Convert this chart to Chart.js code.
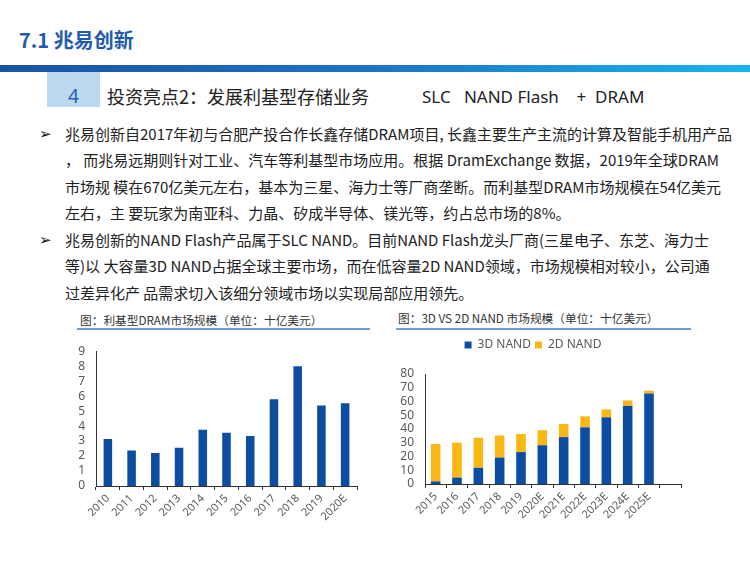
<!DOCTYPE html>
<html>
<head>
<meta charset="utf-8">
<script src="https://cdn.jsdelivr.net/npm/chart.js@4/dist/chart.umd.min.js"></script>
<style>
  html, body { margin: 0; padding: 0; background: #fff; }
  body { width: 750px; height: 562px; position: relative; overflow: hidden;
         font-family: "Noto Sans CJK SC", "Noto Sans", sans-serif; color: #222; }
  .abs { position: absolute; white-space: nowrap; }
  #title { left: 19px; top: 25px; font-size: 20px; font-weight: bold; color: #1f5cad; }
  #bar { left: 0; top: 65px; width: 750px; height: 7px;
         background: linear-gradient(to right, #1a52a3, #1d74c4 50%, #19b4ec); }
  #box { left: 47px; top: 72px; width: 53px; height: 35px; background: #bdd7ee; }
  #num { left: 47px; top: 83px; width: 53px; text-align: center; color: #2063b0;
         font-size: 19px; line-height: 26px; font-family: "Noto Sans", sans-serif; }
  #head { left: 107px; top: 83px; font-size: 18px; line-height: 26px; }
  #head2 { left: 422px; top: 84px; font-size: 17px; line-height: 26px; font-family: "Noto Sans", sans-serif; }
  .ln { left: 65px; font-size: 15px; line-height: 20px; }
  .bul { left: 39px; font-size: 15px; line-height: 20px; font-family: "DejaVu Sans", sans-serif; color: #111; }
  .cap { font-size: 11.7px; color: #333; }
  .rule { height: 1.5px; background: #6f9bd6; }
  .wrap { position: absolute; }
</style>
</head>
<body>
<div id="title" class="abs">7.1 兆易创新</div>
<div id="bar" class="abs"></div>
<div id="box" class="abs"></div>
<div id="num" class="abs">4</div>
<div id="head" class="abs">投资亮点2：发展利基型存储业务</div>
<div id="head2" class="abs">SLC&nbsp;&nbsp;&nbsp;NAND Flash&nbsp;&nbsp;&nbsp;&nbsp;+&nbsp;&nbsp;DRAM</div>

<div class="abs bul" style="top:124px">➢</div>
<div class="abs ln" style="top:124px">兆易创新自2017年初与合肥产投合作长鑫存储DRAM项目, 长鑫主要生产主流的计算及智能手机用产品</div>
<div class="abs ln" style="top:150px">，&nbsp;而兆易远期则针对工业、汽车等利基型市场应用。根据 DramExchange 数据，2019年全球DRAM</div>
<div class="abs ln" style="top:177px">市场规 模在670亿美元左右，基本为三星、海力士等厂商垄断。而利基型DRAM市场规模在54亿美元</div>
<div class="abs ln" style="top:203px">左右，主 要玩家为南亚科、力晶、矽成半导体、镁光等，约占总市场的8%。</div>
<div class="abs bul" style="top:230px">➢</div>
<div class="abs ln" style="top:230px">兆易创新的NAND Flash产品属于SLC NAND。目前NAND Flash龙头厂商(三星电子、东芝、海力士</div>
<div class="abs ln" style="top:256px">等)以 大容量3D NAND占据全球主要市场，而在低容量2D NAND领域，市场规模相对较小，公司通</div>
<div class="abs ln" style="top:283px">过差异化产 品需求切入该细分领域市场以实现局部应用领先。</div>

<div class="abs cap" style="left:80px; top:311px">图：利基型DRAM市场规模（单位：十亿美元）</div>
<div class="abs rule" style="left:77px; top:328px; width:293px"></div>
<div class="abs cap" style="left:398px; top:309px">图：3D VS 2D NAND 市场规模（单位：十亿美元）</div>
<div class="abs rule" style="left:396px; top:328px; width:295px"></div>

<div class="wrap" style="left:60px; top:333px; width:310px; height:200px"><canvas id="dram"></canvas></div>
<div class="wrap" style="left:385px; top:335px; width:320px; height:200px"><canvas id="nand"></canvas></div>

<script>
const dramYears = ["2010", "2011", "2012", "2013", "2014", "2015", "2016", "2017", "2018", "2019", "2020E"]
const dramValues = [3.14, 2.37, 2.21, 2.56, 3.76, 3.56, 3.34, 5.8, 8.0, 5.38, 5.53]

// last category is empty in the original chart
const nandYears = ["2015", "2016", "2017", "2018", "2019", "2020E", "2021E", "2022E", "2023E", "2024E", "2025E", ""]
const nand3D = [1.9, 4.7, 11.8, 19.2, 23.2, 28.2, 34.1, 41.2, 48.5, 56.8, 65.8, null]
const nand2D = [27.2, 25.4, 21.8, 16.1, 13.2, 10.9, 9.5, 8.0, 5.7, 4.0, 2.1, null]

const BLUE = "#0c4da2"
const GOLD = "#fbb715"
const TICK = "#595959"
const AXIS = "#333333"

Chart.defaults.font.family = "'Noto Sans', 'Noto Sans CJK SC', sans-serif"
Chart.defaults.color = TICK
Chart.defaults.animation = false

const xAxis = (h) => ({
  grid: { display: true, drawOnChartArea: false, drawTicks: true, tickLength: 4, color: AXIS },
  border: { color: AXIS, width: 1 },
  ticks: { color: TICK, font: { size: 11 }, minRotation: 45, maxRotation: 45, padding: 2, autoSkip: false },
  afterFit: (s) => { s.height = h }
})

const yAxis = (w, max, step) => ({
  min: 0, max: max,
  grid: { display: false, drawTicks: false },
  border: { color: AXIS, width: 1 },
  ticks: { stepSize: step, autoSkip: false, color: TICK, font: { size: 12 }, padding: 11 },
  afterFit: (s) => { s.width = w }
})

// push the plot down a bit below the legend
const legendGap = {
  id: "legendGap",
  beforeInit(chart) {
    const fit = chart.legend.fit
    chart.legend.fit = function () {
      fit.bind(chart.legend)()
      this.height += 13
    }
  }
}

new Chart(document.getElementById("dram"), {
  type: "bar",
  data: {
    labels: dramYears,
    datasets: [{ data: dramValues, backgroundColor: BLUE, categoryPercentage: 1, barPercentage: 0.36 }]
  },
  options: {
    responsive: true,
    maintainAspectRatio: false,
    layout: { padding: { top: 3, right: 13, left: 0, bottom: 0 } },
    plugins: { legend: { display: false }, tooltip: { enabled: false } },
    scales: { x: xAxis(47), y: yAxis(36, 9, 1) }
  }
})

new Chart(document.getElementById("nand"), {
  type: "bar",
  data: {
    labels: nandYears,
    datasets: [
      { label: "3D NAND", data: nand3D, backgroundColor: BLUE, categoryPercentage: 1, barPercentage: 0.45 },
      { label: "2D NAND", data: nand2D, backgroundColor: GOLD, categoryPercentage: 1, barPercentage: 0.45 }
    ]
  },
  plugins: [legendGap],
  options: {
    responsive: true,
    maintainAspectRatio: false,
    layout: { padding: { top: 0, right: 24, left: 0, bottom: 0 } },
    plugins: {
      legend: {
        position: "top",
        labels: { boxWidth: 7, boxHeight: 7, padding: 4, color: TICK, font: { size: 12 } }
      },
      tooltip: { enabled: false }
    },
    scales: {
      x: { ...xAxis(51), stacked: true },
      y: { ...yAxis(40, 80, 10), stacked: true }
    }
  }
})
</script>
</body>
</html>
